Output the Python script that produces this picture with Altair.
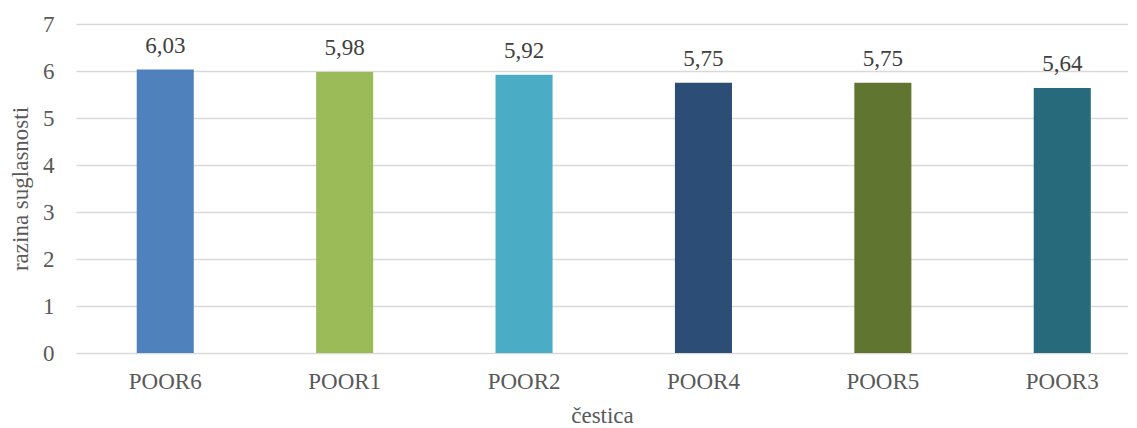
import altair as alt
import pandas as pd

categories = ["POOR6", "POOR1", "POOR2", "POOR4", "POOR5", "POOR3"]
values = [6.03, 5.98, 5.92, 5.75, 5.75, 5.64]
colors = ["#4F81BD", "#9BBB59", "#4BACC6", "#2C4D75", "#5F7530", "#276A7C"]
y_ticks = [0, 1, 2, 3, 4, 5, 6, 7]

df = pd.DataFrame({"cat": categories, "val": values})

FONT = "Liberation Serif, Times New Roman, Times, serif"

x = alt.X(
    "cat:N",
    sort=categories,
    title="čestica",
    scale=alt.Scale(paddingInner=0.682, paddingOuter=0.273, align=0.62),
    axis=alt.Axis(
        labelFont=FONT, labelFontSize=23, labelColor="#595959", labelAngle=0,
        labelPadding=17, ticks=False, domain=False,
        titleFont=FONT, titleFontSize=23, titleColor="#595959",
        titleFontWeight="normal", titlePadding=11,
    ),
)
y = alt.Y(
    "val:Q",
    title="razina suglasnosti",
    scale=alt.Scale(domain=[0, 7]),
    axis=alt.Axis(
        values=y_ticks, labelFont=FONT, labelFontSize=23, labelColor="#595959",
        labelPadding=22, ticks=False, domain=False,
        gridColor="#D9D9D9", gridWidth=1.5,
        titleFont=FONT, titleFontSize=23, titleColor="#595959",
        titleFontWeight="normal", titlePadding=10,
    ),
)

bars = alt.Chart(df).mark_bar().encode(
    x=x, y=y,
    color=alt.Color("cat:N", scale=alt.Scale(domain=categories, range=colors), legend=None),
)

labels = alt.Chart(df).transform_calculate(
    lbl="replace(format(datum.val, '.2f'), '.', ',')"
).mark_text(font=FONT, fontSize=23, color="#404040", baseline="bottom", dy=-12).encode(
    x=alt.X("cat:N", sort=categories),
    y=alt.Y("val:Q"),
    text="lbl:N",
)

chart = (bars + labels).properties(
    width=1052, height=329,
    autosize=alt.AutoSizeParams(type="none"),
    padding={"left": 68, "top": 16, "right": 0, "bottom": 75},
).configure_view(stroke=None)

chart.save("out.html", embed_options={"renderer": "svg", "actions": False})
